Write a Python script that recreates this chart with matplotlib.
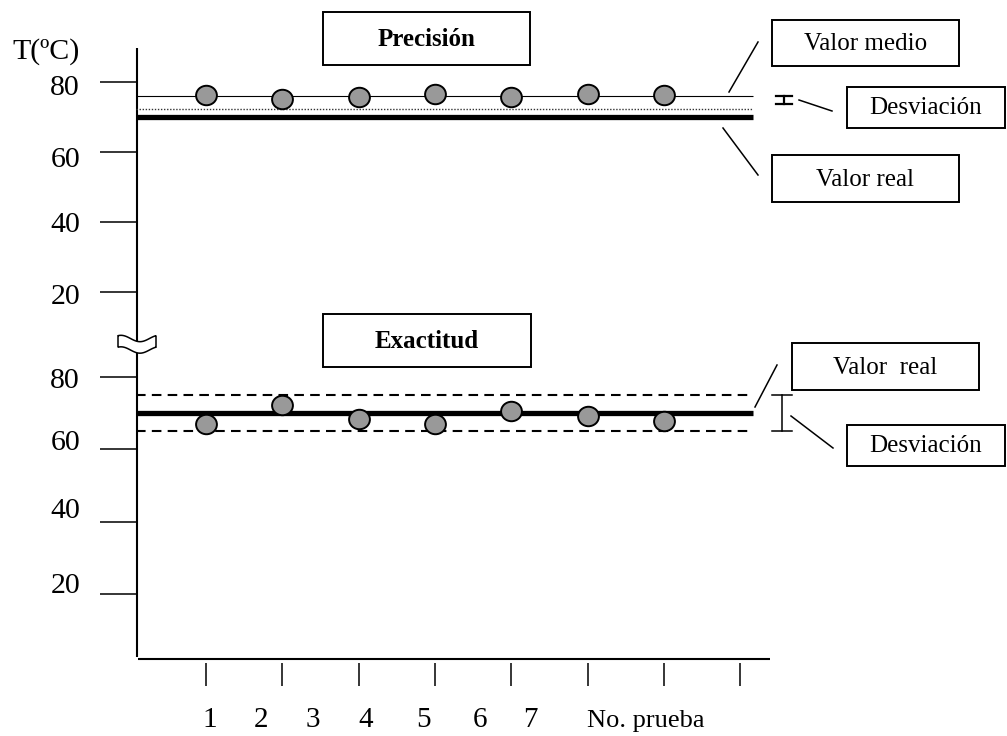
import numpy as np
import matplotlib
matplotlib.use("Agg")
import matplotlib.pyplot as plt
from matplotlib.path import Path
from matplotlib.transforms import Affine2D, blended_transform_factory, ScaledTranslation
from matplotlib.patches import Rectangle, Polygon

plt.rcParams['font.family'] = ['Liberation Serif', 'DejaVu Serif']

# ---------------- data ----------------
trials = [1, 2, 3, 4, 5, 6, 7]
prec_temps = [76.3, 75.1, 75.6, 76.6, 75.7, 76.6, 76.3]
prec_real = 70
prec_mean = 76
prec_dev_low = 72.3

exact_temps = [67.0, 72.3, 68.5, 67.0, 70.6, 69.2, 67.8]
exact_real = 70
exact_dev = 5

y_ticks = [20, 40, 60, 80]
x_tick_trials = [1, 2, 3, 4, 5, 6, 7, 8]
x_labels = ['1', '2', '3', '4', '5', '6', '7', 'No. prueba']
y_title = 'T(ºC)'
panel_titles = ['Precisión', 'Exactitud']

# ---------------- layout (pixels) ----------------
W, H, DPI = 1007, 736, 100
px_per_trial = 76.3
trial1_px = 206
axis_left_px, axis_right_px = 136, 770
line_end_px = 753
x_label_px = [210, 261, 313, 366, 424, 480, 530, 646]
top_label_shift = [2, 0, 5, 3]
bot_label_shift = [-11, -14, -9, 1]

fig = plt.figure(figsize=(W / DPI, H / DPI), dpi=DPI)
ov = fig.add_axes([0, 0, 1, 1])
ov.set_xlim(0, W)
ov.set_ylim(H, 0)
ov.axis('off')


def px2trial(p):
    return 1 + (p - trial1_px) / px_per_trial


xlo, xhi = px2trial(axis_left_px), px2trial(axis_right_px)
xend = px2trial(line_end_px)


def add_panel(y80_px, ppd, ymin, ymax):
    top_px = y80_px - (ymax - 80) * ppd
    bot_px = y80_px + (80 - ymin) * ppd
    ax = fig.add_axes([axis_left_px / W, 1 - bot_px / H,
                       (axis_right_px - axis_left_px) / W, (bot_px - top_px) / H])
    ax.set_xlim(xlo, xhi)
    ax.set_ylim(ymin, ymax)
    for s in ax.spines.values():
        s.set_visible(False)
    ax.patch.set_alpha(0)
    ax.set_xticks([])
    ax.set_yticks(y_ticks)
    ax.tick_params(axis='y', direction='out', length=26, width=1.1,
                   labelleft=False, color='black')
    return ax


ax_top = add_panel(82, 3.5, 10, 90)
ax_bot = add_panel(377, 3.617, 0, 90)

ell = Path.unit_circle().transformed(Affine2D().scale(1.07, 1.0))

# top panel: precision
ax_top.hlines(prec_mean, xlo, xend, color='black', lw=0.8, zorder=2)
ax_top.hlines(prec_dev_low, xlo, xend, color='#333333', lw=1.0,
              linestyles=(0, (1, 1.2)), zorder=2)
ax_top.hlines(prec_real, xlo, xend, color='black', lw=3.8, zorder=2)
ax_top.plot(trials, prec_temps, ls='none', marker=ell, ms=15,
            mfc='#999999', mec='black', mew=1.4, zorder=3)

# bottom panel: accuracy
ax_bot.hlines([exact_real + exact_dev, exact_real - exact_dev], xlo, xend,
              color='black', lw=1.5, linestyles=(0, (4.6, 3.0)), zorder=2)
ax_bot.hlines(exact_real, xlo, xend, color='black', lw=3.8, zorder=2)
ax_bot.plot(trials, exact_temps, ls='none', marker=ell, ms=15,
            mfc='#999999', mec='black', mew=1.4, zorder=3)

# y tick labels
em_y = 21.5 * DPI / 72
for ax, shifts in ((ax_top, top_label_shift), (ax_bot, bot_label_shift)):
    tr = blended_transform_factory(ov.transData, ax.transData)
    for v, sh in zip(y_ticks, shifts):
        off = ScaledTranslation(0, -(sh + 0.338 * em_y) / DPI, fig.dpi_scale_trans)
        ax.text(80, v, str(v), transform=tr + off, ha='right', va='baseline',
                fontsize=21.5, clip_on=False)

# axes lines
ov.plot([axis_left_px + 1, axis_left_px + 1], [48, 657], color='black', lw=1.5,
        solid_capstyle='butt')
ov.plot([axis_left_px + 2, axis_right_px], [659, 659], color='black', lw=1.5,
        solid_capstyle='butt')

# x ticks
trx = blended_transform_factory(ax_bot.transData, ov.transData)
ax_bot.vlines(x_tick_trials, 663, 686, transform=trx, color='black', lw=1.1,
              clip_on=False)

# x labels
for lab, xp in zip(x_labels, x_label_px):
    ov.text(xp, 727, lab, ha='center', va='baseline', fontsize=21 if lab.isdigit() else 19)

ov.text(46, 59, y_title, ha='center', va='baseline', fontsize=21.5)

# axis break symbol
t = np.linspace(0, 1, 60)
xs = 118 + 38 * t
top = 338.5 - 2.8 * np.cos(2 * np.pi * t) - 1.5 * np.sin(2 * np.pi * t)
bot = top + 11.5
verts = np.vstack([np.column_stack([xs, top]), np.column_stack([xs[::-1], bot[::-1]])])
ov.add_patch(Polygon(verts, closed=True, facecolor='white', edgecolor='black',
                     lw=1.1, zorder=5))

# boxes
def box(x0, y0, x1, y1, text, bold=False, size=18):
    ov.add_patch(Rectangle((x0, y0), x1 - x0, y1 - y0, facecolor='white',
                           edgecolor='black', lw=1.4, zorder=4))
    ov.text((x0 + x1) / 2, (y0 + y1) / 2 + 1, text, ha='center', va='center',
            fontsize=size, fontweight='bold' if bold else 'normal', zorder=6)


box(323, 12, 530, 65, panel_titles[0], bold=True)
box(323, 314, 531, 367, panel_titles[1], bold=True)
box(772, 20, 959, 66, 'Valor medio')
box(847, 87, 1005, 128, 'Desviación')
box(772, 155, 959, 202, 'Valor real')
box(792, 343, 979, 390, 'Valor  real')
box(847, 425, 1005, 466, 'Desviación')

# leaders
for (a, b), (c, d) in [((729, 92), (758, 42)), ((723, 128), (758, 175)),
                       ((799, 100), (832, 111)), ((755, 407), (777, 365)),
                       ((791, 416), (833, 448))]:
    ov.plot([a, c], [b, d], color='black', lw=1.1)

# deviation bars
ov.plot([784, 784], [96, 104], color='black', lw=1.6)
ov.plot([776, 792], [96, 96], color='black', lw=1.6)
ov.plot([776, 792], [104, 104], color='black', lw=1.6)
ov.plot([782, 782], [395, 431], color='black', lw=1.1)
ov.plot([772, 792], [395, 395], color='black', lw=1.1)
ov.plot([772, 792], [431, 431], color='black', lw=1.1)

fig.savefig('out.png', dpi=DPI)
